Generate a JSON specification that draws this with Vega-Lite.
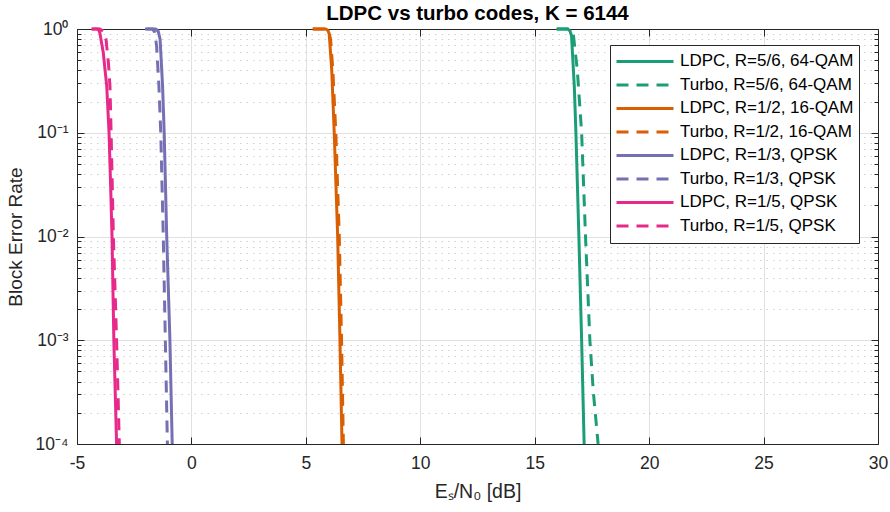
{
  "$schema": "https://vega.github.io/schema/vega-lite/v6.json",
  "width": 801,
  "height": 415,
  "autosize": "none",
  "padding": {"left": 77, "top": 29, "right": 12, "bottom": 68},
  "background": "white",
  "title": {"text": "LDPC vs turbo codes, K = 6144", "font": "Liberation Sans", "fontSize": 20.5, "fontWeight": "bold", "color": "#000000", "offset": -4, "anchor": "middle"},
  "config": {
    "view": {"stroke": null},
    "axis": {"labelFont": "Liberation Sans", "titleFont": "Liberation Sans", "labelColor": "#262626", "titleColor": "#262626", "domainColor": "#262626", "tickColor": "#262626", "titleFontWeight": "normal"},
    "legend": {"labelFont": "Liberation Sans"}
  },
  "data": {"values": [
    {"snr": 15.96, "bler": 1, "series": "LDPC, R=5/6, 64-QAM"},
    {"snr": 16.45, "bler": 1, "series": "LDPC, R=5/6, 64-QAM"},
    {"snr": 16.55, "bler": 0.95, "series": "LDPC, R=5/6, 64-QAM"},
    {"snr": 16.61, "bler": 0.85, "series": "LDPC, R=5/6, 64-QAM"},
    {"snr": 16.73, "bler": 0.28, "series": "LDPC, R=5/6, 64-QAM"},
    {"snr": 16.8, "bler": 0.1, "series": "LDPC, R=5/6, 64-QAM"},
    {"snr": 16.93, "bler": 0.01, "series": "LDPC, R=5/6, 64-QAM"},
    {"snr": 17.05, "bler": 0.001, "series": "LDPC, R=5/6, 64-QAM"},
    {"snr": 17.16, "bler": 0.0001, "series": "LDPC, R=5/6, 64-QAM"},

    {"snr": 15.96, "bler": 1, "series": "Turbo, R=5/6, 64-QAM"},
    {"snr": 16.5, "bler": 1, "series": "Turbo, R=5/6, 64-QAM"},
    {"snr": 16.62, "bler": 0.96, "series": "Turbo, R=5/6, 64-QAM"},
    {"snr": 16.68, "bler": 0.915, "series": "Turbo, R=5/6, 64-QAM"},
    {"snr": 16.86, "bler": 0.405, "series": "Turbo, R=5/6, 64-QAM"},
    {"snr": 17.05, "bler": 0.1, "series": "Turbo, R=5/6, 64-QAM"},
    {"snr": 17.22, "bler": 0.01, "series": "Turbo, R=5/6, 64-QAM"},
    {"snr": 17.41, "bler": 0.001, "series": "Turbo, R=5/6, 64-QAM"},
    {"snr": 17.56, "bler": 0.00032, "series": "Turbo, R=5/6, 64-QAM"},
    {"snr": 17.77, "bler": 0.0001, "series": "Turbo, R=5/6, 64-QAM"},

    {"snr": 5.3, "bler": 1, "series": "LDPC, R=1/2, 16-QAM"},
    {"snr": 5.88, "bler": 1, "series": "LDPC, R=1/2, 16-QAM"},
    {"snr": 5.97, "bler": 0.96, "series": "LDPC, R=1/2, 16-QAM"},
    {"snr": 6.02, "bler": 0.9, "series": "LDPC, R=1/2, 16-QAM"},
    {"snr": 6.13, "bler": 0.405, "series": "LDPC, R=1/2, 16-QAM"},
    {"snr": 6.24, "bler": 0.1, "series": "LDPC, R=1/2, 16-QAM"},
    {"snr": 6.39, "bler": 0.01, "series": "LDPC, R=1/2, 16-QAM"},
    {"snr": 6.49, "bler": 0.001, "series": "LDPC, R=1/2, 16-QAM"},
    {"snr": 6.58, "bler": 0.0001, "series": "LDPC, R=1/2, 16-QAM"},

    {"snr": 5.3, "bler": 1, "series": "Turbo, R=1/2, 16-QAM"},
    {"snr": 5.9, "bler": 1, "series": "Turbo, R=1/2, 16-QAM"},
    {"snr": 6.0, "bler": 0.95, "series": "Turbo, R=1/2, 16-QAM"},
    {"snr": 6.08, "bler": 0.8, "series": "Turbo, R=1/2, 16-QAM"},
    {"snr": 6.18, "bler": 0.4, "series": "Turbo, R=1/2, 16-QAM"},
    {"snr": 6.31, "bler": 0.1, "series": "Turbo, R=1/2, 16-QAM"},
    {"snr": 6.46, "bler": 0.01, "series": "Turbo, R=1/2, 16-QAM"},
    {"snr": 6.56, "bler": 0.001, "series": "Turbo, R=1/2, 16-QAM"},
    {"snr": 6.64, "bler": 0.0001, "series": "Turbo, R=1/2, 16-QAM"},

    {"snr": -1.96, "bler": 1, "series": "LDPC, R=1/3, QPSK"},
    {"snr": -1.55, "bler": 1, "series": "LDPC, R=1/3, QPSK"},
    {"snr": -1.45, "bler": 0.95, "series": "LDPC, R=1/3, QPSK"},
    {"snr": -1.37, "bler": 0.8, "series": "LDPC, R=1/3, QPSK"},
    {"snr": -1.26, "bler": 0.28, "series": "LDPC, R=1/3, QPSK"},
    {"snr": -1.19, "bler": 0.1, "series": "LDPC, R=1/3, QPSK"},
    {"snr": -1.08, "bler": 0.01, "series": "LDPC, R=1/3, QPSK"},
    {"snr": -0.94, "bler": 0.001, "series": "LDPC, R=1/3, QPSK"},
    {"snr": -0.84, "bler": 0.0001, "series": "LDPC, R=1/3, QPSK"},

    {"snr": -2.03, "bler": 1, "series": "Turbo, R=1/3, QPSK"},
    {"snr": -1.7, "bler": 1, "series": "Turbo, R=1/3, QPSK"},
    {"snr": -1.6, "bler": 0.93, "series": "Turbo, R=1/3, QPSK"},
    {"snr": -1.52, "bler": 0.68, "series": "Turbo, R=1/3, QPSK"},
    {"snr": -1.42, "bler": 0.28, "series": "Turbo, R=1/3, QPSK"},
    {"snr": -1.34, "bler": 0.1, "series": "Turbo, R=1/3, QPSK"},
    {"snr": -1.23, "bler": 0.01, "series": "Turbo, R=1/3, QPSK"},
    {"snr": -1.14, "bler": 0.001, "series": "Turbo, R=1/3, QPSK"},
    {"snr": -1.05, "bler": 0.0001, "series": "Turbo, R=1/3, QPSK"},

    {"snr": -4.36, "bler": 1, "series": "LDPC, R=1/5, QPSK"},
    {"snr": -4.07, "bler": 1, "series": "LDPC, R=1/5, QPSK"},
    {"snr": -4.0, "bler": 0.915, "series": "LDPC, R=1/5, QPSK"},
    {"snr": -3.85, "bler": 0.587, "series": "LDPC, R=1/5, QPSK"},
    {"snr": -3.7, "bler": 0.28, "series": "LDPC, R=1/5, QPSK"},
    {"snr": -3.6, "bler": 0.1, "series": "LDPC, R=1/5, QPSK"},
    {"snr": -3.53, "bler": 0.0304, "series": "LDPC, R=1/5, QPSK"},
    {"snr": -3.47, "bler": 0.01, "series": "LDPC, R=1/5, QPSK"},
    {"snr": -3.39, "bler": 0.001, "series": "LDPC, R=1/5, QPSK"},
    {"snr": -3.27, "bler": 0.0001, "series": "LDPC, R=1/5, QPSK"},

    {"snr": -4.36, "bler": 1, "series": "Turbo, R=1/5, QPSK"},
    {"snr": -4.0, "bler": 1, "series": "Turbo, R=1/5, QPSK"},
    {"snr": -3.85, "bler": 0.95, "series": "Turbo, R=1/5, QPSK"},
    {"snr": -3.73, "bler": 0.79, "series": "Turbo, R=1/5, QPSK"},
    {"snr": -3.62, "bler": 0.45, "series": "Turbo, R=1/5, QPSK"},
    {"snr": -3.56, "bler": 0.28, "series": "Turbo, R=1/5, QPSK"},
    {"snr": -3.51, "bler": 0.1, "series": "Turbo, R=1/5, QPSK"},
    {"snr": -3.41, "bler": 0.01, "series": "Turbo, R=1/5, QPSK"},
    {"snr": -3.27, "bler": 0.001, "series": "Turbo, R=1/5, QPSK"},
    {"snr": -3.15, "bler": 0.0001, "series": "Turbo, R=1/5, QPSK"}
  ]},
  "layer": [
    {
      "mark": {"type": "line", "strokeWidth": 3, "strokeJoin": "round", "strokeCap": "butt"},
      "encoding": {
        "x": {"field": "snr", "type": "quantitative",
          "scale": {"domain": [-5, 30], "nice": false, "zero": false},
          "axis": {"orient": "bottom", "values": [-5, 0, 5, 10, 15, 20, 25, 30], "title": "Eₛ/N₀ [dB]", "titleFontSize": 19.5, "titlePadding": 11,
            "labelExpr": "datum.value < 0 ? '-' + abs(datum.value) : '' + datum.value",
            "labelFontSize": 17.5, "labelPadding": 17, "tickSize": -7, "tickWidth": 1, "domainWidth": 1,
            "grid": true, "gridColor": "#e0e0e0", "gridWidth": 1, "labelFlush": false}},
        "y": {"field": "bler", "type": "quantitative",
          "scale": {"type": "log", "domain": [0.0001, 1], "nice": false},
          "axis": {"orient": "left", "title": "Block Error Rate", "titleFontSize": 19, "titlePadding": 10,
            "values": [0.0001,0.0002,0.0003,0.0004,0.0005,0.0006,0.0007,0.0008,0.0009,0.001,0.002,0.003,0.004,0.005,0.006,0.007,0.008,0.009,0.01,0.02,0.03,0.04,0.05,0.06,0.07,0.08,0.09,0.1,0.2,0.3,0.4,0.5,0.6,0.7,0.8,0.9,1],
            "labelExpr": "abs(log(datum.value)/LN10 - round(log(datum.value)/LN10)) < 1e-6 ? (round(log(datum.value)/LN10) == 0 ? '10⁰' : round(log(datum.value)/LN10) == -1 ? '10⁻¹' : round(log(datum.value)/LN10) == -2 ? '10⁻²' : round(log(datum.value)/LN10) == -3 ? '10⁻³' : '10⁻⁴') : ''",
            "labelFontSize": 17.5, "labelPadding": 16, "labelFlush": false, "labelOverlap": false,
            "tickSize": {"condition": {"test": "abs(log(datum.value)/LN10 - round(log(datum.value)/LN10)) < 1e-6", "value": -7}, "value": -4},
            "grid": true,
            "gridColor": {"condition": {"test": "abs(log(datum.value)/LN10 - round(log(datum.value)/LN10)) < 1e-6", "value": "#e0e0e0"}, "value": "#d0d0d0"},
            "gridDash": {"condition": {"test": "abs(log(datum.value)/LN10 - round(log(datum.value)/LN10)) < 1e-6", "value": []}, "value": [1.5, 5]}}},
        "color": {"field": "series", "type": "nominal", "sort": null,
          "scale": {"domain": ["LDPC, R=5/6, 64-QAM", "Turbo, R=5/6, 64-QAM", "LDPC, R=1/2, 16-QAM", "Turbo, R=1/2, 16-QAM", "LDPC, R=1/3, QPSK", "Turbo, R=1/3, QPSK", "LDPC, R=1/5, QPSK", "Turbo, R=1/5, QPSK"],
            "range": ["#1b9e77", "#1b9e77", "#d95f02", "#d95f02", "#7570b3", "#7570b3", "#e7298a", "#e7298a"]},
          "legend": {"title": null, "orient": "none", "legendX": 533, "legendY": 16, "padding": 5, "strokeColor": "#262626", "fillColor": "white",
            "symbolType": "stroke", "symbolSize": 3249, "symbolStrokeWidth": 3, "labelFontSize": 17, "labelColor": "#000000", "clipHeight": 22.8, "rowPadding": 0.5, "labelOffset": 5, "labelLimit": 300}},
        "strokeDash": {"field": "series", "type": "nominal", "sort": null,
          "scale": {"domain": ["LDPC, R=5/6, 64-QAM", "Turbo, R=5/6, 64-QAM", "LDPC, R=1/2, 16-QAM", "Turbo, R=1/2, 16-QAM", "LDPC, R=1/3, QPSK", "Turbo, R=1/3, QPSK", "LDPC, R=1/5, QPSK", "Turbo, R=1/5, QPSK"],
            "range": [[1, 0], [12, 8], [1, 0], [12, 8], [1, 0], [12, 8], [1, 0], [12, 8]]},
          "legend": {"title": null, "orient": "none", "legendX": 533, "legendY": 16}}
      }
    },
    {
      "mark": {"type": "line", "strokeOpacity": 0},
      "encoding": {
        "x": {"field": "snr", "type": "quantitative",
          "axis": {"orient": "top", "values": [-5, 0, 5, 10, 15, 20, 25, 30], "labels": false, "title": null, "tickSize": -7, "grid": false, "domainWidth": 1}},
        "y": {"field": "bler", "type": "quantitative",
          "axis": {"orient": "right", "labels": false, "title": null, "grid": false,
            "values": [0.0001,0.0002,0.0003,0.0004,0.0005,0.0006,0.0007,0.0008,0.0009,0.001,0.002,0.003,0.004,0.005,0.006,0.007,0.008,0.009,0.01,0.02,0.03,0.04,0.05,0.06,0.07,0.08,0.09,0.1,0.2,0.3,0.4,0.5,0.6,0.7,0.8,0.9,1],
            "tickSize": {"condition": {"test": "abs(log(datum.value)/LN10 - round(log(datum.value)/LN10)) < 1e-6", "value": -7}, "value": -4}}},
        "detail": {"field": "series", "type": "nominal"}
      }
    }
  ],
  "resolve": {"axis": {"x": "independent", "y": "independent"}}
}
